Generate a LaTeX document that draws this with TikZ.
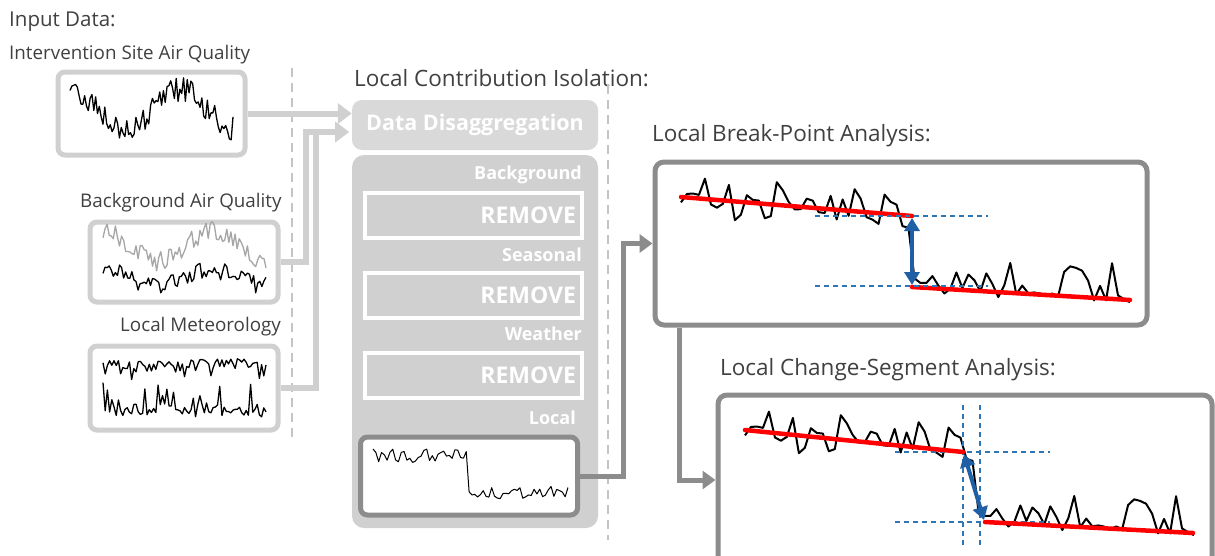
\documentclass[tikz,border=0pt]{standalone}
\usepackage{fontspec}
\setmainfont{Open Sans}
\usetikzlibrary{arrows.meta,positioning}
\definecolor{txtgray}{HTML}{404040}
\definecolor{boxgray}{HTML}{D0D0D0}
\definecolor{panelgray}{HTML}{D0D0D0}
\definecolor{disgray}{HTML}{D9D9D9}
\definecolor{darkgray2}{HTML}{8C8C8C}
\definecolor{sepgray}{HTML}{C4C4C4}
\definecolor{trendred}{HTML}{FF0000}
\definecolor{stepblue}{HTML}{1F5FA6}
\definecolor{guideblue}{HTML}{2E75B6}

% the same noisy series with a drop, used in both analysis boxes
\newcommand{\dropseries}{%
  \pgfmathsetseed{4711}%
  \draw[series,line width=2pt] plot[domain=0:449,samples=76]
    (\x,{(\x<231)*(0.082*\x-2+23*rand)+(\x>=231)*(93+0.06*(\x-231)+6*rand-38*abs(rand)^2)});}

\begin{document}
\begin{tikzpicture}
  [x=1pt,y=-1pt,
   every node/.style={inner sep=0pt},
   heading/.style={anchor=west,text=txtgray,font=\fontsize{18.8}{22}\selectfont},
   bigheading/.style={heading,font=\fontsize{22.5}{26}\selectfont},
   lightbox/.style={draw=boxgray,line width=5pt,rounded corners=7pt,fill=white},
   darkbox/.style={draw=darkgray2,line width=5pt,rounded corners=9pt,fill=white},
   removebox/.style={draw=white,line width=4pt,fill=panelgray,minimum height=45pt,
     text width=205pt,align=right,inner xsep=6pt,text=white,
     font=\fontsize{23}{26}\selectfont\bfseries},
   panellabel/.style={anchor=east,text=white,font=\fontsize{18}{21}\selectfont\bfseries},
   series/.style={black,line width=1.3pt,line join=round},
   lightarrow/.style={draw=boxgray,line width=6pt,-{Triangle[length=14pt,width=20pt]}},
   darkarrow/.style={draw=darkgray2,line width=5pt,-{Triangle[length=13pt,width=18pt]}},
   sepline/.style={sepgray,line width=2pt,dash pattern=on 9pt off 6pt},
   trend/.style={trendred,line width=4.5pt,line cap=round},
   guide/.style={guideblue,line width=1.5pt,dash pattern=on 5pt off 4pt},
   steparrow/.style={stepblue,line width=4pt,{Triangle[length=13pt,width=15pt]}-{Triangle[length=13pt,width=15pt]}}]
  \useasboundingbox (0,0) rectangle (1215,555);
  \clip (0,0) rectangle (1215,555);

  % input data
  \node[heading,font=\fontsize{20.5}{24}\selectfont] (tInput) at (9,22) {Input Data:};
  \node[heading] (tSite) at (9,55) {Intervention Site Air Quality};
  \node[heading] (tBack) at (80,203) {Background Air Quality};
  \node[heading] (tMet) at (120,327) {Local Meteorology};
  \node[lightbox,minimum width=187pt,minimum height=83pt] (siteAQ) at (151.5,113.5) {};
  \node[lightbox,minimum width=188pt,minimum height=80pt] (backAQ) at (184,262) {};
  \node[lightbox,minimum width=188pt,minimum height=84pt] (met) at (184,388) {};

  \pgfmathsetseed{11}
  \draw[series] plot[domain=70:233,samples=90] (\x,{110-20*cos((\x-70)*3.27)+13*rand});
  \draw[series,gray!70] plot[domain=103:266,samples=80] (\x,{246-15*cos((\x-103)*3.3)+10*rand});
  \draw[series] plot[domain=103:266,samples=80] (\x,{278-8*cos((\x-103)*3.3)+9*rand});
  \draw[series] plot[domain=103:266,samples=75] (\x,{362+4*rand+16*abs(rand)^3});
  \draw[series] plot[domain=103:266,samples=75] (\x,{414+3*rand-32*abs(rand)^3});

  \draw[sepline] (292,68) -- (292,440);

  % local contribution isolation
  \node[bigheading] (tIso) at (354,78) {Local Contribution Isolation:};
  \node[fill=disgray,rounded corners=10pt,minimum width=246pt,minimum height=50pt,
    text=white,font=\fontsize{21.5}{25}\selectfont\bfseries] (disagg) at (475,125) {Data Disaggregation};
  \node[fill=panelgray,rounded corners=12pt,minimum width=246pt,minimum height=373pt] (panel) at (475,341.5) {};
  \foreach \lab/\y [count=\i] in {Background/215.5,Seasonal/295.5,Weather/375}
  {
    \node[removebox] (rm\i) at (473.5,\y) {REMOVE};
    \node[panellabel] (lab\i) at (582,\y-41) {\lab};
  }
  \node[panellabel] (labLocal) at (576,418) {Local};
  \node[darkbox,rounded corners=7pt,minimum width=217pt,minimum height=78pt] (localTS) at (469,476) {};
  \pgfmathsetseed{23}
  \draw[series,line width=1pt] plot[domain=373:568,samples=70] (\x,{(\x<468)*(456+7*rand)+(\x>=468)*(492+7*rand)});

  \draw[sepline] (608,85) -- (608,540);

  % analyses
  \node[bigheading] (tBP) at (652,136) {Local Break-Point Analysis:};
  \node[darkbox,minimum width=492pt,minimum height=163pt] (bp) at (901,243.5) {};
  \node[bigheading] (tCS) at (720,370) {Local Change-Segment Analysis:};
  \node[darkbox,minimum width=494pt,minimum height=170pt] (cs) at (965,480) {};

  \begin{scope}[shift={(681,197)}]
    \dropseries
    \draw[trend] (0,0) -- (231,19);
    \draw[trend] (231,90) -- (449,103);
    \draw[guide] (134,19) -- (307,19);
    \draw[guide] (134,89) -- (307,89);
    \draw[steparrow] (231,21) -- (231,88);
  \end{scope}
  \begin{scope}[shift={(745,430)}]
    \dropseries
    \draw[guide] (150,22) -- (305,22);
    \draw[guide] (150,92) -- (305,92);
    \draw[guide] (218,-25) -- (218,115);
    \draw[guide] (235,-25) -- (235,115);
    \draw[trend] (0,0) -- (218,22);
    \draw[trend] (240,92) -- (448,103);
    \draw[steparrow] (219,24) -- (239,90);
  \end{scope}

  % connectors
  \coordinate (inB) at (349,132);
  \draw[lightarrow] (siteAQ.east) -- (siteAQ.east -| disagg.west);
  \draw[lightarrow] (backAQ.east) -- ++(25,0) |- (inB);
  \draw[lightarrow] (met.east) -- ++(35,0) |- (inB);
  \draw[darkarrow] (localTS.east) -- ++(43,0) |- (bp.west);
  \draw[darkarrow] ([xshift=27pt]bp.south west) |- (cs.west);
\end{tikzpicture}
\end{document}
